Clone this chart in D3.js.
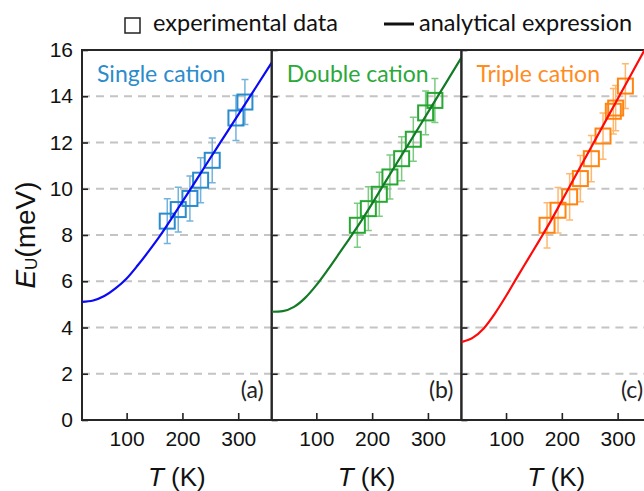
<!DOCTYPE html>
<html>
<head>
<meta charset="utf-8">
<script src="https://cdn.jsdelivr.net/npm/d3@7"></script>
<style>
body { margin: 0; background: #fff; }
svg { display: block; }
</style>
</head>
<body>
<svg id="svg01" width="644" height="491"></svg>
<script>
// panel names / tags
const panelNames = ["Single cation", "Double cation", "Triple cation"]
const panelTags = ["(a)", "(b)", "(c)"]

// experimental data (T in K, E_U in meV, error in meV)
const singleT = [172.8, 192.5, 213.4, 232.6, 253.4, 295.9, 312.0]
const singleE = [8.60, 9.10, 9.58, 10.37, 11.23, 13.06, 13.75]
const singleErr = [0.97, 0.97, 0.97, 0.97, 0.97, 0.97, 0.97]

const doubleT = [173.5, 193.2, 212.9, 231.9, 252.9, 273.8, 295.9, 312.5]
const doubleE = [8.42, 9.14, 9.76, 10.51, 11.30, 12.14, 13.28, 13.82]
const doubleErr = [0.95, 0.95, 0.95, 0.95, 0.95, 0.95, 0.95, 0.95]

const tripleT = [173.5, 193.2, 214.0, 233.2, 252.9, 273.8, 292.3, 296.5, 313.9]
const tripleE = [8.42, 9.07, 9.65, 10.44, 11.30, 12.28, 13.35, 13.49, 14.44]
const tripleErr = [0.98, 0.98, 1.0, 1.0, 1.0, 1.0, 0.98, 0.98, 0.97]

// analytical expression
const fitT = [20, 40, 60, 80, 100, 120, 140, 160, 180, 200, 240, 280, 320, 360]
const singleFit = [5.11, 5.17, 5.36, 5.69, 6.12, 6.69, 7.31, 7.97, 8.70, 9.44, 10.95, 12.45, 13.95, 15.45]
const doubleFit = [4.68, 4.71, 4.89, 5.28, 5.83, 6.48, 7.17, 7.87, 8.59, 9.36, 10.94, 12.51, 14.09, 15.67]
const tripleFit = [3.37, 3.55, 3.96, 4.60, 5.36, 6.18, 6.98, 7.78, 8.60, 9.48, 11.24, 13.00, 14.76, 16.52]

const yTicks = [0, 2, 4, 6, 8, 10, 12, 14, 16]
const xTicks = [100, 200, 300]

const panels = [
    {name: panelNames[0], tag: panelTags[0], T: singleT, E: singleE, err: singleErr, fit: singleFit,
     text: "#2b8ccc", mark: "#2a8ccc", bar: "#74b3dd", line: "#0a0af5"},
    {name: panelNames[1], tag: panelTags[1], T: doubleT, E: doubleE, err: doubleErr, fit: doubleFit,
     text: "#2aa83a", mark: "#28a832", bar: "#7ccb80", line: "#137a26"},
    {name: panelNames[2], tag: panelTags[2], T: tripleT, E: tripleE, err: tripleErr, fit: tripleFit,
     text: "#ff8c1e", mark: "#ff8410", bar: "#ffb870", line: "#ff0a0a"}
]

margin = {top: 50, left: 82, bottom: 71}
width = 644
height = 491
panelW = 189.7

y = d3.scaleLinear()
    .domain([0, 16])
    .range([height - margin.bottom, margin.top])

const svg = d3.select("#svg01")
const tickFont = "'Liberation Sans', Arial, sans-serif"
const textFont = "Lato, 'Open Sans', sans-serif"

panels.forEach((p, i) => {
    const x0 = margin.left + i * panelW
    const x = d3.scaleLinear()
        .domain([20, 360])
        .range([x0, x0 + panelW])

    const g = svg.append("g")

    g.append("clipPath").attr("id", "clip" + i)
        .append("rect")
        .attr("x", x0).attr("y", margin.top)
        .attr("width", panelW).attr("height", y(0) - margin.top)

    // dashed grid
    g.append("g")
        .selectAll("line")
        .data(yTicks.filter(d => d > 0 && d < 16))
        .join("line")
        .attr("x1", x0).attr("x2", x0 + panelW)
        .attr("y1", d => y(d)).attr("y2", d => y(d))
        .attr("stroke", "#c4c4c4")
        .attr("stroke-width", 2)
        .attr("stroke-dasharray", "8,6")

    // axes, ticks pointing in
    g.append("g")
        .attr("transform", `translate(0,${y(0)})`)
        .call(d3.axisBottom(x).tickValues(xTicks).tickSizeInner(-7).tickSizeOuter(0).tickPadding(11))
        .call(g => g.select(".domain").remove())
        .call(g => g.selectAll("line").attr("stroke", "#222").attr("stroke-width", 1.6))
        .call(g => g.selectAll("text").attr("font-family", tickFont).attr("font-size", 21).attr("fill", "#111"))

    g.append("g")
        .attr("transform", `translate(${x0},0)`)
        .call(d3.axisLeft(y).tickValues(yTicks).tickSizeInner(-6).tickSizeOuter(0).tickPadding(9)
            .tickFormat(i == 0 ? d3.format("d") : ""))
        .call(g => g.select(".domain").remove())
        .call(g => g.selectAll("line").attr("stroke", "#222").attr("stroke-width", 1.6))
        .call(g => g.selectAll("text").attr("font-family", tickFont).attr("font-size", 21).attr("fill", "#111"))

    // frame
    g.append("rect")
        .attr("x", x0).attr("y", margin.top)
        .attr("width", panelW).attr("height", y(0) - margin.top)
        .attr("fill", "none")
        .attr("stroke", "#262626")
        .attr("stroke-width", 2)

    const pts = p.T.map((t, j) => ({T: t, E: p.E[j], err: p.err[j]}))
    const plot = g.append("g").attr("clip-path", `url(#clip${i})`)

    // error bars
    const eb = plot.append("g")
        .attr("stroke", p.bar)
        .attr("stroke-width", 1.5)
        .selectAll("g")
        .data(pts)
        .join("g")
    eb.append("line")
        .attr("x1", d => x(d.T)).attr("x2", d => x(d.T))
        .attr("y1", d => y(d.E - d.err)).attr("y2", d => y(d.E + d.err))
    eb.append("line")
        .attr("x1", d => x(d.T) - 3.5).attr("x2", d => x(d.T) + 3.5)
        .attr("y1", d => y(d.E - d.err)).attr("y2", d => y(d.E - d.err))
    eb.append("line")
        .attr("x1", d => x(d.T) - 3.5).attr("x2", d => x(d.T) + 3.5)
        .attr("y1", d => y(d.E + d.err)).attr("y2", d => y(d.E + d.err))

    // squares
    plot.append("g")
        .selectAll("rect")
        .data(pts)
        .join("rect")
        .attr("x", d => x(d.T) - 7.5)
        .attr("y", d => y(d.E) - 7.5)
        .attr("width", 15).attr("height", 15)
        .attr("fill", "none")
        .attr("stroke", p.mark)
        .attr("stroke-width", 2)

    // analytical curve
    const line = d3.line()
        .x((d, j) => x(fitT[j]))
        .y(d => y(d))
        .curve(d3.curveMonotoneX)
    plot.append("path")
        .attr("d", line(p.fit))
        .attr("fill", "none")
        .attr("stroke", p.line)
        .attr("stroke-width", 2.2)

    g.append("text")
        .attr("x", x0 + 15)
        .attr("y", 81.5)
        .attr("font-family", textFont)
        .attr("font-size", 23)
        .attr("fill", p.text)
        .text(p.name)

    g.append("text")
        .attr("x", x0 + panelW - 8)
        .attr("y", 398)
        .attr("text-anchor", "end")
        .attr("font-family", textFont)
        .attr("font-size", 23)
        .attr("fill", "#222")
        .text(p.tag)

    const xl = g.append("text")
        .attr("x", x0 + panelW / 2)
        .attr("y", 486)
        .attr("text-anchor", "middle")
        .attr("font-family", tickFont)
        .attr("font-size", 26)
        .attr("fill", "#111")
    xl.append("tspan").attr("font-style", "italic").text("T")
    xl.append("tspan").text(" (K)")
})

// y label
const yl = svg.append("text")
    .attr("transform", `translate(35,${(margin.top + y(0)) / 2}) rotate(-90)`)
    .attr("text-anchor", "middle")
    .attr("font-family", tickFont)
    .attr("font-size", 28)
    .attr("fill", "#111")
yl.append("tspan").attr("font-style", "italic").text("E")
yl.append("tspan").attr("font-size", 17).attr("dy", 2).text("U")
yl.append("tspan").attr("dy", -2).text("(meV)")

// legend
const lg = svg.append("g")
lg.append("rect")
    .attr("x", 125).attr("y", 18)
    .attr("width", 15).attr("height", 15)
    .attr("fill", "none")
    .attr("stroke", "#222")
    .attr("stroke-width", 1.5)
lg.append("text")
    .attr("x", 153).attr("y", 31)
    .attr("font-family", textFont)
    .attr("font-size", 23.5)
    .attr("fill", "#111")
    .text("experimental data")
lg.append("line")
    .attr("x1", 384).attr("x2", 414)
    .attr("y1", 24).attr("y2", 24)
    .attr("stroke", "#111")
    .attr("stroke-width", 3)
lg.append("text")
    .attr("x", 419).attr("y", 31)
    .attr("font-family", textFont)
    .attr("font-size", 23.5)
    .attr("fill", "#111")
    .text("analytical expression")
</script>
</body>
</html>
